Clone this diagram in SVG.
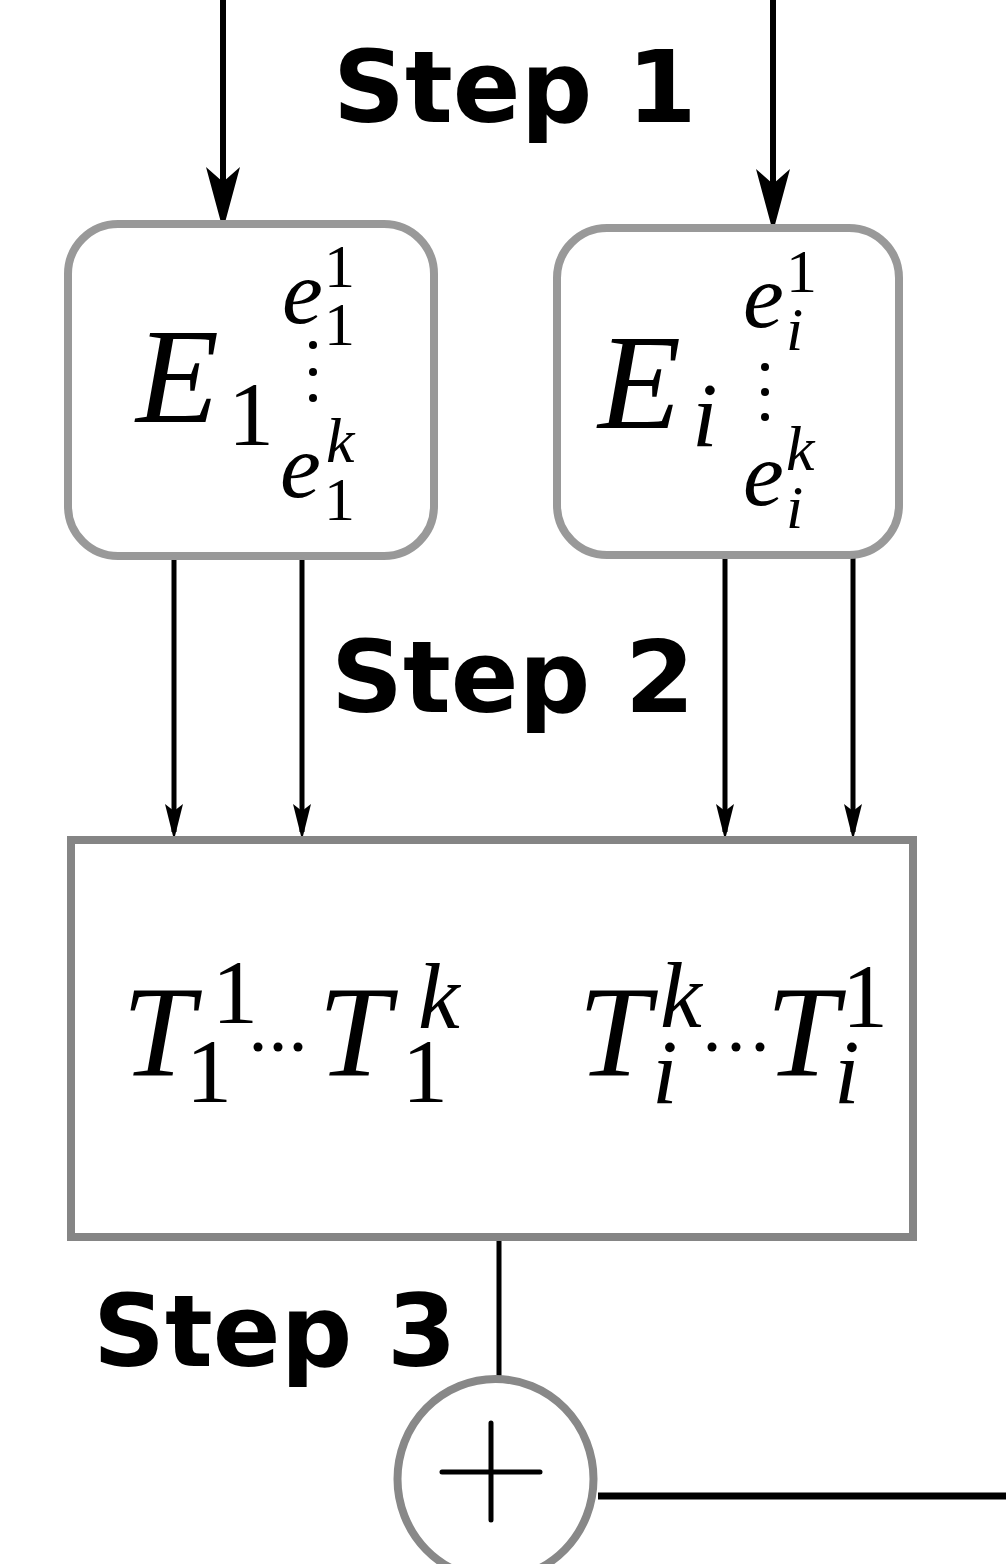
<svg xmlns="http://www.w3.org/2000/svg" width="1006" height="1564" viewBox="0 0 1006 1564">
  <style>
    .step { font-family: "DejaVu Sans", "Liberation Sans", sans-serif; font-weight: bold; font-size: 100px; fill: #000; }
    .mi { font-family: "Liberation Serif", "DejaVu Serif", serif; font-style: italic; fill: #000; }
    .mn { font-family: "Liberation Serif", "DejaVu Serif", serif; fill: #000; }
    .node { fill: #fff; stroke-width: 8; }
    .wire { fill: none; stroke: #000; }
  </style>
  <defs>
    <marker id="headBig" markerUnits="userSpaceOnUse" viewBox="-70 -20 72 40" refX="-12" refY="0" markerWidth="72" markerHeight="40" orient="auto">
      <path d="M0,0 L-63,-17 L-48,0 L-63,17 Z" fill="#000"/>
    </marker>
    <marker id="headSmall" markerUnits="userSpaceOnUse" viewBox="-40 -12 42 24" refX="-8" refY="0" markerWidth="42" markerHeight="24" orient="auto">
      <path d="M0,0 L-36,-9 L-29,0 L-36,9 Z" fill="#000"/>
    </marker>
  </defs>

  <!-- connectors -->
  <g id="connectors">
    <path class="wire" stroke-width="6" d="M223,0 V218" marker-end="url(#headBig)"/>
    <path class="wire" stroke-width="6" d="M773,0 V220" marker-end="url(#headBig)"/>
    <path class="wire" stroke-width="5" d="M174,557 V832" marker-end="url(#headSmall)"/>
    <path class="wire" stroke-width="5" d="M302,557 V832" marker-end="url(#headSmall)"/>
    <path class="wire" stroke-width="5" d="M725,557 V832" marker-end="url(#headSmall)"/>
    <path class="wire" stroke-width="5" d="M853,557 V832" marker-end="url(#headSmall)"/>
    <path class="wire" stroke-width="5" d="M499,1241 V1380"/>
    <path class="wire" stroke-width="7" d="M598,1496 H1006"/>
  </g>

  <!-- step labels -->
  <text class="step" x="333" y="122">Step 1</text>
  <text class="step" x="331" y="712">Step 2</text>
  <text class="step" x="93" y="1366">Step 3</text>

  <!-- encoder E1 -->
  <g id="node-e1">
    <rect class="node" stroke="#999" x="68" y="224" width="366" height="332" rx="50"/>
    <text class="mi" x="136" y="422" font-size="136">E</text>
    <text class="mn" x="228" y="445" font-size="92">1</text>
    <text class="mi" x="282" y="323" font-size="92">e</text>
    <text class="mn" x="324" y="287" font-size="62">1</text>
    <text class="mn" x="324" y="345" font-size="62">1</text>
    <circle cx="313" cy="345" r="4"/>
    <circle cx="313" cy="372" r="4"/>
    <circle cx="313" cy="398" r="4"/>
    <text class="mi" x="280" y="497" font-size="92">e</text>
    <text class="mi" x="326" y="462" font-size="64">k</text>
    <text class="mn" x="324" y="520" font-size="62">1</text>
  </g>

  <!-- encoder Ei -->
  <g id="node-ei">
    <rect class="node" stroke="#999" x="557" y="228" width="342" height="327" rx="50"/>
    <text class="mi" x="598" y="428" font-size="136">E</text>
    <text class="mi" x="692" y="446" font-size="92">i</text>
    <text class="mi" x="743" y="327" font-size="92">e</text>
    <text class="mn" x="786" y="292" font-size="62">1</text>
    <text class="mi" x="786" y="350" font-size="62">i</text>
    <circle cx="765" cy="367" r="4"/>
    <circle cx="765" cy="392" r="4"/>
    <circle cx="765" cy="417" r="4"/>
    <text class="mi" x="743" y="505" font-size="92">e</text>
    <text class="mi" x="786" y="470" font-size="64">k</text>
    <text class="mi" x="786" y="528" font-size="62">i</text>
  </g>

  <!-- transformer block -->
  <g id="node-t">
    <rect class="node" stroke="#858585" x="71" y="840" width="842" height="397"/>
    <text class="mi" x="122" y="1075" font-size="130">T</text>
    <text class="mn" x="212" y="1023" font-size="92">1</text>
    <text class="mn" x="186" y="1102" font-size="92">1</text>
    <circle cx="258" cy="1047" r="4.5"/>
    <circle cx="278" cy="1047" r="4.5"/>
    <circle cx="298" cy="1047" r="4.5"/>
    <text class="mi" x="318" y="1075" font-size="130">T</text>
    <text class="mi" x="418" y="1028" font-size="94">k</text>
    <text class="mn" x="402" y="1102" font-size="92">1</text>

    <text class="mi" x="578" y="1075" font-size="130">T</text>
    <text class="mi" x="660" y="1027" font-size="94">k</text>
    <text class="mi" x="652" y="1103" font-size="92">i</text>
    <circle cx="712" cy="1047" r="4.5"/>
    <circle cx="736" cy="1047" r="4.5"/>
    <circle cx="760" cy="1047" r="4.5"/>
    <text class="mi" x="766" y="1075" font-size="130">T</text>
    <text class="mn" x="842" y="1027" font-size="92">1</text>
    <text class="mi" x="834" y="1103" font-size="92">i</text>
  </g>

  <!-- summation -->
  <g id="node-sum">
    <ellipse class="node" stroke="#888" cx="495.5" cy="1479" rx="98" ry="100"/>
    <path d="M442,1472 H540 M491,1423 V1520" stroke="#000" stroke-width="5" stroke-linecap="round" fill="none"/>
  </g>
</svg>
